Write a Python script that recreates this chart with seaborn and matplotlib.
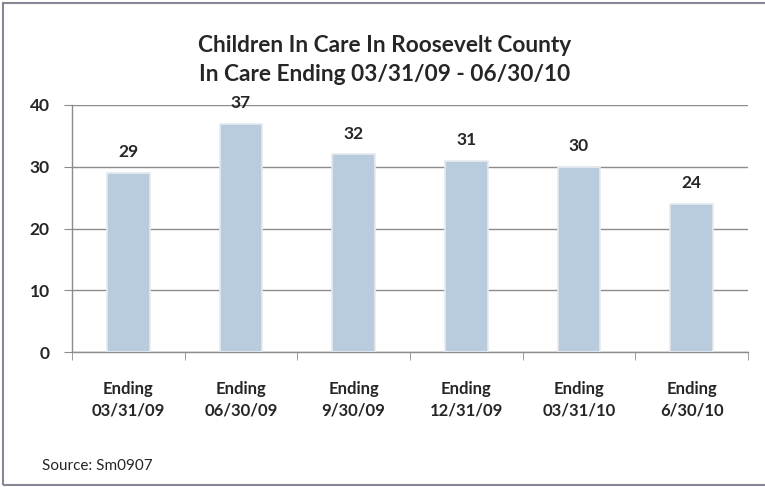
import numpy as np
import pandas as pd
import matplotlib
matplotlib.use("Agg")
from matplotlib import pyplot as plt
from matplotlib import ticker
import seaborn as sns

categories = ["Ending\n03/31/09", "Ending\n06/30/09", "Ending\n9/30/09",
              "Ending\n12/31/09", "Ending\n03/31/10", "Ending\n6/30/10"]
children = [29, 37, 32, 31, 30, 24]
title_lines = ["Children In Care In Roosevelt County", "In Care Ending 03/31/09 - 06/30/10"]
source_note = "Source: Sm0907"

sns.set_style("white")
plt.rcParams["font.family"] = ["Lato", "DejaVu Sans"]

df = pd.DataFrame({"period": categories, "count": children})

fig = plt.figure(figsize=(7.65, 4.87), dpi=100)
ax = fig.add_axes([0.0941, 0.2772, 0.8837, 0.5072])

sns.barplot(data=df, x="period", y="count", color="#B9CCDD", width=0.38,
            edgecolor="#E6EAEE", linewidth=1.2, saturation=1, ax=ax, zorder=3)

ax.set_ylim(0, 40)
ax.set_xlim(-0.5, 5.5)
ax.yaxis.set_major_locator(ticker.MultipleLocator(10))
ax.grid(axis="y", color="#8C8C8C", linewidth=1, zorder=0)
ax.set_axisbelow(True)
for s in ["top", "right"]:
    ax.spines[s].set_visible(False)
for s in ["left", "bottom"]:
    ax.spines[s].set_color("#8C8C8C")
    ax.spines[s].set_linewidth(1)

ax.set_xlabel("")
ax.set_ylabel("")
ax.xaxis.set_minor_locator(ticker.FixedLocator(np.arange(-0.5, 6, 1)))
ax.tick_params(axis="x", which="major", length=0, pad=21, labelsize=12)
ax.tick_params(axis="x", which="minor", length=6, color="#8C8C8C", direction="out", bottom=True)
ax.tick_params(axis="y", length=6, color="#8C8C8C", direction="out", left=True, labelsize=12.5, pad=10)
for lab in ax.get_xticklabels() + ax.get_yticklabels():
    lab.set_fontweight("bold")
    lab.set_linespacing(1.4)

for i, v in enumerate(children):
    ax.annotate(str(v), (i, v), xytext=(0, 9), textcoords="offset points",
                ha="center", va="bottom", fontsize=12.5, fontweight="bold")

fig.text(0.503, 0.907, title_lines[0], ha="center", va="center", fontsize=16.3, fontweight="bold")
fig.text(0.503, 0.846, title_lines[1], ha="center", va="center", fontsize=16.3, fontweight="bold")
fig.text(0.055, 0.043, source_note, ha="left", va="center", fontsize=11)

# outer frame
frame = plt.Rectangle((0.004, 0.004), 1.2, 0.99, transform=fig.transFigure,
                      fill=False, edgecolor="#8A8494", linewidth=1.5)
fig.patches.append(frame)

fig.savefig("out.png", dpi=100)
